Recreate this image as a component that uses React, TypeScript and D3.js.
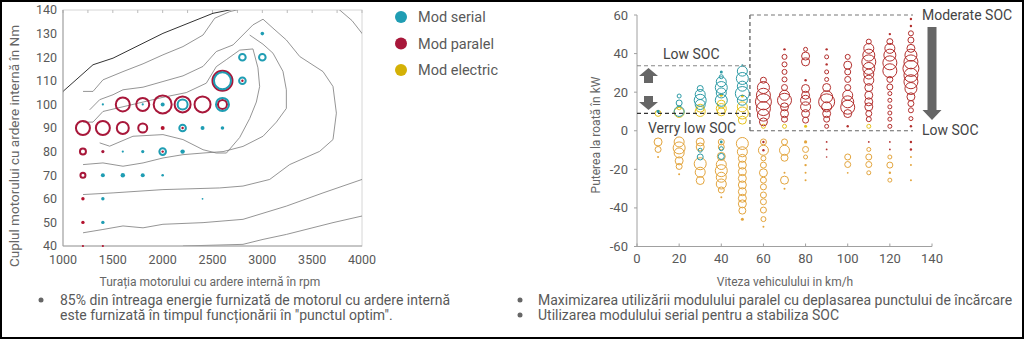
import React from "react";
import * as d3 from "d3";

// ---------- Left chart data (rpm, Nm, size) ----------
const leftXTicks = [1000, 1500, 2000, 2500, 3000, 3500, 4000];
const leftYTicks = [40, 50, 60, 70, 80, 90, 100, 110, 120, 130, 140];

const leftParallelRings: [number, number, number][] = [
  [1200, 90, 7], [1400, 90, 7], [1600, 90, 6], [1800, 90, 4.5],
  [1600, 100, 7], [1800, 100, 6.5], [2000, 100, 9], [2200, 100, 8], [2400, 100, 8], [2600, 100, 4.5],
  [2600, 110, 10], [1200, 80, 3], [1200, 70, 2.5], [1400, 80, 1.6],
];
const leftParallelDots: [number, number, number][] = [
  [2000, 90, 2], [2800, 110, 1.2], [2000, 80, 1.2], [2200, 90, 1.2],
  [1200, 60, 1.7], [1200, 50, 1.7], [1200, 40, 1.1], [1400, 40, 1.1],
];
const leftSerialRings: [number, number, number][] = [
  [2200, 100, 5], [2600, 100, 6.5], [2600, 110, 8.5], [2800, 110, 3.3],
  [2800, 120, 3.3], [3000, 120, 3.3], [2200, 90, 3.3], [2000, 80, 3.3],
];
const leftSerialDots: [number, number, number][] = [
  [1400, 100, 1.1], [1800, 100, 1.1], [2000, 100, 2], [3000, 130, 1.8],
  [2400, 90, 2], [2600, 90, 1.8],
  [1600, 80, 1.1], [1800, 80, 1.6], [2200, 80, 2.2],
  [1400, 70, 2], [1600, 70, 2.2], [1800, 70, 2], [2000, 70, 1.3],
  [1400, 60, 1.7], [2400, 60, 0.9], [1400, 50, 1.7],
];

// efficiency map contours (rpm, Nm)
const contourOuterA: [number, number][] = [
  [950, 100], [1000, 105.5], [1301, 116.8], [1502, 119.6], [2003, 130.1], [2505, 138.6], [2706, 140.3], [2900, 143],
];
const contourOuterA2: [number, number][] = [
  [3650, 143], [3776, 140], [3900, 135.5], [4000, 130.1], [4100, 124],
];
const contourB: [number, number][] = [
  [1201, 105.5], [1301, 105.5], [1401, 110.4], [1602, 113.9], [1803, 117.2], [2003, 121],
  [2204, 124.5], [2405, 129.4], [2522, 136.5], [2672, 139.3], [2840, 141],
];
const contourC: [number, number][] = [
  [1268, 97.7], [1368, 102], [1502, 104.1], [1602, 106.2], [1803, 107.3], [2003, 109.7],
  [2204, 112.1], [2405, 116.1], [2538, 122.4], [2706, 125.2], [2906, 133.7], [3007, 136.1],
  [3107, 132.3], [3241, 127.3], [3375, 120.3], [3609, 113.9], [3709, 107.6], [3743, 96.3],
  [3709, 85.1], [3575, 80.1], [3274, 74.5], [3074, 68.2], [2806, 65.4], [2572, 64.6],
  [2003, 63.9], [1502, 62.5], [1201, 61.8],
];
const contourD: [number, number][] = [
  [1201, 92.5], [1301, 92.5], [1401, 97], [1602, 99], [1803, 101], [2003, 103],
  [2237, 105], [2438, 109], [2538, 116], [2640, 119], [2773, 123], [2906, 123.5],
  [2956, 115.5], [2973, 107.6], [2940, 101], [2873, 94], [2773, 86], [2640, 79.4],
  [2538, 79.4], [2405, 80.8], [2204, 85.1], [2003, 87.2], [1702, 86.5], [1468, 82.3], [1368, 83.7],
];
const contourE: [number, number][] = [
  [1201, 74.5], [1401, 75.2], [1602, 73.8], [1803, 75.2], [2003, 77.3], [2204, 78.7],
  [2405, 79.4], [2606, 80], [2806, 82.2], [3007, 86.5], [3141, 92.5], [3241, 98.3],
  [3241, 106.2], [3207, 114], [3107, 121.7], [3007, 125.5], [2873, 129.4],
];
const contourF: [number, number][] = [
  [1201, 45.6], [1401, 47], [1602, 48.5], [1803, 47.7], [2003, 49.2], [2405, 49.9],
  [2806, 51.3], [3241, 56.9], [3609, 62.5], [4000, 68.2],
];
const contourG: [number, number][] = [
  [2204, 40], [2806, 40.7], [3007, 42.8], [3241, 44.9], [3709, 49.9], [4000, 52.7],
];
const contours = [contourOuterA, contourOuterA2, contourB, contourC, contourD, contourE, contourF, contourG];

// ---------- Right chart data (km/h, kW, size) ----------
const rightXTicks = [0, 20, 40, 60, 80, 100, 120, 140];
const rightYTicks = [-60, -40, -20, 0, 20, 40, 60];

const rightSerial: [number, number, number][] = [
  [10, 10, 1.6],
  [20, 18, 2], [20, 14.4, 3], [20, 10, 5],
  [30, 21.9, 3], [30, 18.8, 5], [30, 15.8, 6], [30, 13.6, 5], [30, -10.1, 2], [30, -13.6, 3],
  [40, 30.5, 1.5], [40, 28, 2], [40, 25.4, 5], [40, 22.4, 6], [40, 19.6, 5], [40, 15.8, 6],
  [40, -5.8, 1.4], [40, -9.3, 2], [40, -13.3, 3],
  [50, 34, 1], [50, 30.9, 5], [50, 27.1, 6], [50, 23.1, 5], [50, 19.3, 7], [50, 15.8, 5],
];
const rightParallel: [number, number, number][] = [
  [60, 26.2, 3], [60, 22.4, 6], [60, 18.4, 7], [60, 15, 8], [60, 11.5, 7], [60, 8.1, 6], [60, 4.6, 4],
  [60, -5.8, 1.2], [60, -10.1, 1.2],
  [70, 42.2, 1.2], [70, 38.3, 2.5], [70, 34.4, 2.5], [70, 30.5, 2.5], [70, 26.6, 2.5], [70, 22.4, 3],
  [70, 18.4, 5], [70, 15.8, 7], [70, 12.4, 4], [70, 8.9, 4], [70, 6, 3],
  [80, 42.2, 2], [80, 38.7, 4], [80, 35.7, 4], [80, 26.2, 1.2], [80, 21.9, 4], [80, 18.4, 4],
  [80, 15.8, 5], [80, 12.4, 5], [80, 8.9, 4], [80, 5.5, 3],
  [90, 42.2, 1.2], [90, 38.3, 2], [90, 34.4, 1.2], [90, 30.5, 2], [90, 26.6, 2], [90, 22.4, 4],
  [90, 17.6, 6], [90, 15, 8], [90, 12.4, 5], [90, 8.9, 4], [90, 6, 3], [90, 2.3, 2],
  [90, -5.8, 0.9], [90, -9.7, 0.9], [90, -13.6, 0.8],
  [100, 38.3, 2.5], [100, 34, 4], [100, 30.5, 3], [100, 26.6, 3], [100, 22.4, 3], [100, 18.4, 5],
  [100, 15, 6], [100, 12.2, 7], [100, 8.9, 4], [100, 2.3, 1.2],
  [110, 46.2, 2.5], [110, 42.7, 5], [110, 39.2, 6], [110, 35.7, 7], [110, 32.3, 6], [110, 29.4, 5],
  [110, 26.2, 5], [110, 22.4, 4], [110, 18.4, 4], [110, 15, 4], [110, 12.4, 4], [110, 8.9, 3], [110, 6, 2.5],
  [110, -5.8, 0.9],
  [120, 50.1, 1.2], [120, 46.2, 3], [120, 42.7, 5], [120, 39.2, 6], [120, 35.2, 7], [120, 31.1, 7],
  [120, 26.6, 3], [120, 22.7, 3], [120, 19.3, 2], [120, 15.8, 2], [120, 12.4, 2], [120, 9.2, 2],
  [120, 6, 2], [120, 2.3, 2], [120, -5.8, 0.9], [120, -9.7, 0.9],
  [130, 57.9, 1.2], [130, 54.3, 1.2], [130, 50.5, 2.5], [130, 47, 3], [130, 42.7, 4], [130, 39.2, 6],
  [130, 35.7, 7], [130, 32.3, 8], [130, 28.8, 7], [130, 25.4, 7], [130, 21.9, 6], [130, 17.6, 4],
  [130, 14.1, 3], [130, 10.6, 2.5], [130, 6.3, 2], [130, 2.3, 1.2], [130, -5.8, 1.2], [130, -9.7, 1.2],
];
const rightElectric: [number, number, number][] = [
  [10, 9, 3], [10, -5.8, 4], [10, -9.7, 3], [10, -13.6, 1],
  [20, 11.9, 2], [20, 9.5, 5], [20, -5.8, 5], [20, -8.9, 6], [20, -11.5, 5], [20, -15.6, 4], [20, -18.5, 3], [20, -22.6, 1],
  [30, 11.7, 4], [30, 10, 5], [30, -5.8, 4], [30, -8.4, 4], [30, -17.1, 6], [30, -21.5, 5], [30, -25.8, 4],
  [40, 18.4, 1.5], [40, 13.8, 4], [40, 11.5, 5], [40, 9.8, 4], [40, -5.8, 3], [40, -8.4, 3], [40, -13.3, 4],
  [40, -17.5, 5], [40, -20.7, 6], [40, -24.1, 5], [40, -27.6, 5], [40, -30.7, 3], [40, -34.5, 1],
  [50, 18, 1.5], [50, 12.4, 5], [50, 9.2, 6], [50, 5.5, 4], [50, -6.6, 6], [50, -10.9, 5], [50, -14.3, 4],
  [50, -17.8, 4], [50, -21.2, 4], [50, -24.7, 4], [50, -28.1, 4], [50, -31.6, 4], [50, -35, 4],
  [50, -37.9, 4], [50, -41.4, 3.5], [50, -45.9, 1.5],
  [60, 2.3, 2], [60, -5.8, 3], [60, -10.1, 5], [60, -14.3, 2.5], [60, -17.8, 3], [60, -21.8, 4], [60, -25.6, 3],
  [60, -29.1, 3], [60, -33.3, 3], [60, -36.8, 3], [60, -41.1, 3], [60, -45.8, 2.5], [60, -49.8, 1],
  [70, 2.3, 2], [70, -5.8, 3], [70, -10.1, 5], [70, -14, 3.5], [70, -21.8, 1], [70, -25.6, 4], [70, -30, 1],
  [80, 2.3, 1.5], [80, -5.8, 1.6], [80, -9.7, 3], [80, -13.6, 2], [80, -17.8, 1.2], [80, -21.8, 1], [80, -25.6, 1],
  [100, -13.6, 3], [100, -17.5, 3], [100, -21.8, 0.9],
  [110, 2.3, 2], [110, -9.7, 2], [110, -13.6, 3], [110, -17.5, 3], [110, -21.8, 2],
  [120, -13.6, 2], [120, -17.8, 3], [120, -21.8, 1.2], [120, -25.6, 2],
  [130, -13.6, 1], [130, -17.8, 1], [130, -25.6, 1],
];

const legendItems = [
  { label: "Mod serial", color: "#1f9db3" },
  { label: "Mod paralel", color: "#a8173a" },
  { label: "Mod electric", color: "#d4b106" },
];

const bulletsLeft = [
  "85% din întreaga energie furnizată de motorul cu ardere internă",
  "este furnizată în timpul funcționării în \"punctul optim\".",
];
const bulletsRight = [
  "Maximizarea utilizării modulului paralel cu deplasarea punctului de încărcare",
  "Utilizarea modulului serial pentru a stabiliza SOC",
];

const FONT = "Roboto, 'Open Sans', sans-serif";
const TXT = "#595959";

export default function App() {
  const W = 1024, H = 339;
  const xL = d3.scaleLinear().domain([1000, 4000]).range([63, 362]);
  const yL = d3.scaleLinear().domain([40, 140]).range([246, 10]);
  const rL = d3.scaleLinear().domain([0, 10]).range([0, 10]);
  const xR = d3.scaleLinear().domain([0, 140]).range([637, 932]);
  const yR = d3.scaleLinear().domain([-60, 60]).range([246.5, 15]);
  const rR = d3.scaleLinear().domain([0, 10]).range([0, 10]);
  const lineL = d3.line<[number, number]>().x((d) => xL(d[0])).y((d) => yL(d[1])).curve(d3.curveLinear);
  const elecColor = (p: number) => (p > 0 ? "#e6c21c" : "#e3a53e");

  const ringOrDot = (key: string, cx: number, cy: number, r: number, color: string, sw: number) =>
    r < 1.8 ? (
      <circle key={key} cx={cx} cy={cy} r={r} fill={color} />
    ) : (
      <circle key={key} cx={cx} cy={cy} r={r} fill="none" stroke={color} strokeWidth={sw} />
    );

  const arrow = (x: number, y0: number, y1: number, shaftW: number, headW: number, headH: number) => {
    const dir = y1 > y0 ? 1 : -1;
    const yb = y1 - dir * headH;
    const p = d3.path();
    p.moveTo(x - shaftW / 2, y0);
    p.lineTo(x + shaftW / 2, y0);
    p.lineTo(x + shaftW / 2, yb);
    p.lineTo(x + headW / 2, yb);
    p.lineTo(x, y1);
    p.lineTo(x - headW / 2, yb);
    p.lineTo(x - shaftW / 2, yb);
    p.closePath();
    return p.toString();
  };

  return (
    <svg width={W} height={H} style={{ position: "absolute", left: 0, top: 0, background: "#fff" }} fontFamily={FONT}>
      <defs>
        <clipPath id="clipL">
          <rect x={63} y={10} width={299} height={236} />
        </clipPath>
      </defs>
      <rect x={0} y={0} width={W} height={H} fill="#fff" />

      {/* ---------- Left chart ---------- */}
      <rect x={63} y={10} width={299} height={236} fill="none" stroke="#d6d6d6" strokeWidth={1} />
      {d3.range(1000, 4001, 250).map((v) => (
        <line key={"tt" + v} x1={xL(v)} x2={xL(v)} y1={10} y2={13} stroke="#bbb" />
      ))}
      <g clipPath="url(#clipL)">
        {contours.map((c, i) => (
          <path key={"c" + i} d={lineL(c) || ""} fill="none" stroke={i === 0 ? "#333" : "#7a7a7a"} strokeWidth={i === 0 ? 1 : 0.8} />
        ))}
      </g>
      <line x1={63} x2={63} y1={10} y2={246} stroke="#a0a0a0" />
      <line x1={63} x2={362} y1={246} y2={246} stroke="#a0a0a0" />
      {leftYTicks.map((t) => (
        <text key={"ly" + t} x={57} y={yL(t)} dy="0.35em" textAnchor="end" fontSize={12.5} fill={TXT}>{t}</text>
      ))}
      {leftXTicks.map((t) => (
        <text key={"lx" + t} x={xL(t)} y={264} textAnchor="middle" fontSize={12.5} fill={TXT}>{t}</text>
      ))}
      <text x={210} y={286} textAnchor="middle" fontSize={12} fill="#666">Turația motorului cu ardere internă în rpm</text>
      <text transform="translate(14,146) rotate(-90)" textAnchor="middle" dy="0.35em" fontSize={13.5} fill="#666">
        Cuplul motorului cu ardere internă în Nm
      </text>

      {leftParallelRings.map((d, i) => ringOrDot("lpr" + i, xL(d[0]), yL(d[1]), rL(d[2]), "#a8173a", 2))}
      {leftSerialRings.map((d, i) => ringOrDot("lsr" + i, xL(d[0]), yL(d[1]), rL(d[2]), "#1f9db3", 2))}
      {leftSerialDots.map((d, i) => (
        <circle key={"lsd" + i} cx={xL(d[0])} cy={yL(d[1])} r={rL(d[2])} fill="#1f9db3" />
      ))}
      {leftParallelDots.map((d, i) => (
        <circle key={"lpd" + i} cx={xL(d[0])} cy={yL(d[1])} r={rL(d[2])} fill="#b3122e" />
      ))}

      {/* legend */}
      {legendItems.map((it, i) => (
        <g key={"lg" + i} transform={`translate(401,${17 + i * 26.5})`}>
          <circle cx={0} cy={0} r={6} fill={it.color} />
          <text x={17} y={0} dy="0.35em" fontSize={14.5} fill={TXT}>{it.label}</text>
        </g>
      ))}

      {/* ---------- Right chart ---------- */}
      <line x1={637} x2={637} y1={15} y2={246.5} stroke="#a0a0a0" />
      <line x1={637} x2={932} y1={246.5} y2={246.5} stroke="#a0a0a0" />
      {rightYTicks.map((t) => (
        <g key={"ry" + t}>
          <line x1={634} x2={637} y1={yR(t)} y2={yR(t)} stroke="#a0a0a0" />
          <text x={628} y={yR(t)} dy="0.35em" textAnchor="end" fontSize={13} fill={TXT}>{t}</text>
        </g>
      ))}
      {rightXTicks.map((t) => (
        <g key={"rx" + t}>
          <line x1={xR(t)} x2={xR(t)} y1={246.5} y2={243.5} stroke="#a0a0a0" />
          <text x={xR(t)} y={263} textAnchor="middle" fontSize={13} fill={TXT}>{t}</text>
        </g>
      ))}
      <text x={785} y={286} textAnchor="middle" fontSize={12} fill="#666">Viteza vehiculului in km/h</text>
      <text transform="translate(596,135) rotate(-90)" textAnchor="middle" dy="0.35em" fontSize={12} fill="#666">
        Puterea la roată în kW
      </text>

      {rightElectric.map((d, i) => ringOrDot("re" + i, xR(d[0]), yR(d[1]), rR(d[2]), elecColor(d[1]), 1))}
      {rightSerial.map((d, i) => ringOrDot("rs" + i, xR(d[0]), yR(d[1]), rR(d[2]), "#2d9ba6", 1))}
      {rightParallel.map((d, i) => ringOrDot("rp" + i, xR(d[0]), yR(d[1]), rR(d[2]), "#b3302e", 1))}

      {/* SOC boxes */}
      <line x1={xR(0)} x2={xR(53.6)} y1={yR(33.7)} y2={yR(33.7)} stroke="#888" strokeDasharray="4,3" strokeWidth={1.2} />
      <line x1={xR(0)} x2={xR(53.6)} y1={yR(9)} y2={yR(9)} stroke="#333" strokeDasharray="4,3" strokeWidth={1.2} />
      <line x1={xR(53.6)} x2={xR(53.6)} y1={yR(60)} y2={yR(0)} stroke="#555" strokeDasharray="4,3" strokeWidth={1.2} />
      <line x1={xR(53.6)} x2={xR(131)} y1={yR(60)} y2={yR(60)} stroke="#777" strokeDasharray="4,3" strokeWidth={1.2} />
      <line x1={xR(53.6)} x2={xR(131)} y1={yR(0)} y2={yR(0)} stroke="#666" strokeDasharray="4,3" strokeWidth={1.2} />
      <text x={663} y={54} dy="0.35em" fontSize={14} fill="#444">Low SOC</text>
      <text x={648} y={128} dy="0.35em" fontSize={14} fill="#444">Verry low SOC</text>
      <text x={922} y={15} dy="0.35em" fontSize={14} fill="#444">Moderate SOC</text>
      <text x={922} y={130} dy="0.35em" fontSize={14} fill="#444">Low SOC</text>
      <path d={arrow(648.5, 83, 68, 9, 19, 8)} fill="#666" />
      <path d={arrow(648.5, 96, 110, 9, 19, 8)} fill="#666" />
      <path d={arrow(932, 27, 120, 9, 19, 10)} fill="#666" />

      {/* ---------- Bullets ---------- */}
      <circle cx={41} cy={300} r={2.5} fill="#666" />
      <text x={60} y={300} dy="0.35em" fontSize={14} fill={TXT}>{bulletsLeft[0]}</text>
      <text x={60} y={315} dy="0.35em" fontSize={14} fill={TXT}>{bulletsLeft[1]}</text>
      {bulletsRight.map((b, i) => (
        <g key={"br" + i}>
          <circle cx={520} cy={300 + i * 15} r={2.5} fill="#666" />
          <text x={538} y={300 + i * 15} dy="0.35em" fontSize={14} fill={TXT}>{b}</text>
        </g>
      ))}

      <rect x={1} y={1} width={W - 2} height={H - 2} fill="none" stroke="#000" strokeWidth={2} />
    </svg>
  );
}
